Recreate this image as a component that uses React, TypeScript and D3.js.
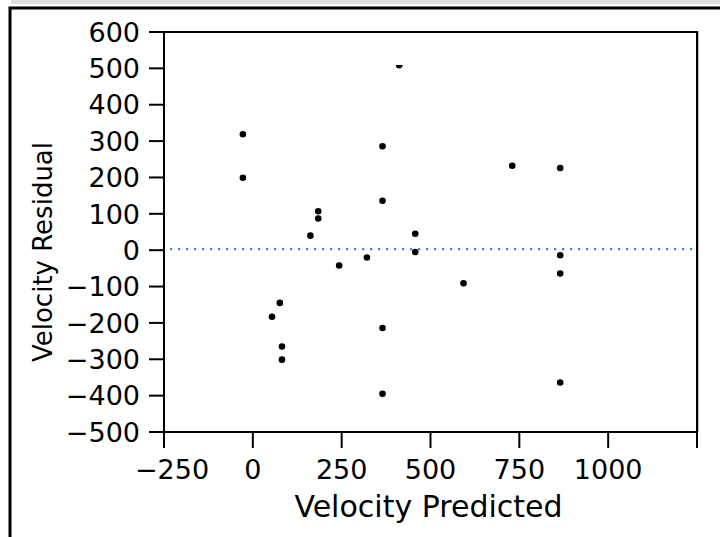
import React from "react";
import * as d3 from "d3";

const predicted = [-28, -28, 54, 76, 82, 82, 162, 184, 184, 243, 321, 365, 365, 365, 365, 457, 457, 593, 730, 865, 865, 865, 865];
const residual = [319, 199, -183, -145, -265, -301, 40, 107, 87, -42, -20, 286, 136, -214, -395, 45, -5, -91, 232, 226, -14, -64, -364];
// point partially hidden at the top (only its lower half is drawn)
const clippedPredicted = [412];
const clippedResidual = [509];

const xTicks = [-250, 0, 250, 500, 750, 1000, 1250];
const xTickLabels = ["\u2212250", "0", "250", "500", "750", "1000", ""];
const yTicks = [600, 500, 400, 300, 200, 100, 0, -100, -200, -300, -400, -500];
const yTickLabels = ["600", "500", "400", "300", "200", "100", "0", "\u2212100", "\u2212200", "\u2212300", "\u2212400", "\u2212500"];
const refValue = [0];

const W = 720;
const H = 537;
const plot = { left: 164, right: 697, top: 32, bottom: 432 };
const FONT = "'DejaVu Sans', sans-serif";

export default function App() {
  const x = d3.scaleLinear().domain([-250, 1250]).range([plot.left, plot.right]);
  const y = d3.scaleLinear().domain([-500, 600]).range([plot.bottom, plot.top]);
  const halfDisc = "M -3.4 0 A 3.4 3.4 0 0 0 3.4 0 Z";

  return (
    <svg width={W} height={H} style={{ position: "absolute", left: 0, top: 0, background: "#fff" }} fontFamily={FONT}>
      <rect x={11} y={0} width={W - 11} height={4} fill="#dedede" />
      <path d={`M ${W} 8 H 10 V ${H}`} fill="none" stroke="#000" strokeWidth={3} />

      {/* reference line */}
      {refValue.map((v, i) => (
        <line key={i} x1={plot.left + 6} x2={plot.right - 3} y1={y(v) - 1} y2={y(v) - 1}
          stroke="#3c82f0" strokeWidth={2.2} strokeDasharray="2.2 5.8" />
      ))}

      {/* points */}
      {predicted.map((p, i) => (
        <circle key={i} cx={x(p)} cy={y(residual[i])} r={3.3} fill="#000" />
      ))}
      {clippedPredicted.map((p, i) => (
        <path key={"c" + i} d={halfDisc} transform={`translate(${x(p)},${y(clippedResidual[i])})`} fill="#000" />
      ))}

      {/* frame */}
      <rect x={plot.left} y={plot.top} width={plot.right - plot.left} height={plot.bottom - plot.top}
        fill="none" stroke="#000" strokeWidth={2} />
      <line x1={plot.right + 0.5} x2={plot.right + 0.5} y1={plot.top - 1} y2={plot.bottom} stroke="#000" strokeWidth={1.5} />

      {/* y axis */}
      {yTicks.map((t, i) => (
        <g key={t}>
          <line x1={plot.left - 15} x2={plot.left} y1={y(t)} y2={y(t)} stroke="#000" strokeWidth={2} />
          <text x={plot.left - 24} y={y(t)} dy="0.36em" textAnchor="end" fontSize={27} fill="#000">{yTickLabels[i]}</text>
        </g>
      ))}

      {/* x axis */}
      {xTicks.map((t, i) => (
        <g key={t}>
          <line x1={x(t)} x2={x(t)} y1={plot.bottom} y2={plot.bottom + 16} stroke="#000" strokeWidth={2} />
          <text x={x(t)} dx={i === 0 ? 8 : 0} y={479} textAnchor="middle" fontSize={27} fill="#000">{xTickLabels[i]}</text>
        </g>
      ))}

      <text x={(plot.left + plot.right) / 2 - 2} y={517} textAnchor="middle" fontSize={30} fill="#000">Velocity Predicted</text>
      <text transform={`translate(52,${(plot.top + plot.bottom) / 2 + 20}) rotate(-90)`} textAnchor="middle" fontSize={26} fill="#000">Velocity Residual</text>
    </svg>
  );
}
